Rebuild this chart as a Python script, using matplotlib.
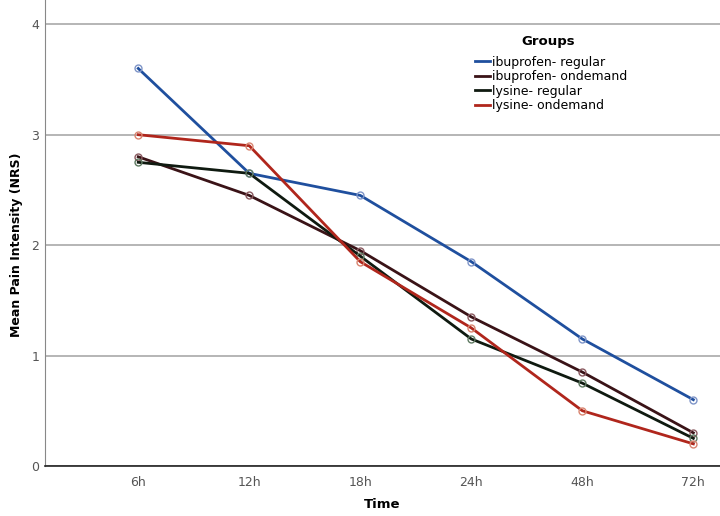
import matplotlib.pyplot as plt
from matplotlib.lines import Line2D

times = ['6h', '12h', '18h', '24h', '48h', '72h']
ibu_regular = [3.6, 2.65, 2.45, 1.85, 1.15, 0.6]
ibu_ondemand = [2.8, 2.45, 1.95, 1.35, 0.85, 0.3]
lys_regular = [2.75, 2.65, 1.9, 1.15, 0.75, 0.25]
lys_ondemand = [3.0, 2.9, 1.85, 1.25, 0.5, 0.2]

labels = ['ibuprofen- regular', 'ibuprofen- ondemand', 'lysine- regular', 'lysine- ondemand']
colors = ['#1f4f9e', '#3a1317', '#0f1a10', '#b0261c']
edge = ['#7f95c8', '#8a5a60', '#5f7a62', '#d98570']

fig = plt.figure(figsize=(7.2, 5.16), dpi=100)
ax = fig.add_axes([0.0625, 0.097, 0.9375, 0.903])

x = range(1, len(times) + 1)
for ys, lab, c, e in zip([ibu_regular, ibu_ondemand, lys_regular, lys_ondemand], labels, colors, edge):
    ax.plot(x, ys, color=c, lw=2, marker='o', ms=5,
            mfc='none', mec=e, mew=1.0, zorder=3)

ax.set_xlim(0.16, 6.24)
ax.set_ylim(0, 4.22)
ax.set_xticks(list(x))
ax.set_xticklabels(times)
ax.set_yticks([0, 1, 2, 3, 4])
ax.tick_params(length=0, colors='#555555', labelsize=9)
ax.tick_params(axis='x', pad=7)
ax.tick_params(axis='y', pad=4)
ax.yaxis.grid(True, color='#b0b0b0', lw=1.3)
ax.set_axisbelow(True)
for s in ['top', 'right']:
    ax.spines[s].set_visible(False)
ax.spines['left'].set_color('#888888')
ax.spines['bottom'].set_color('#222222')
ax.spines['bottom'].set_linewidth(1.2)

fig.text(382 / 720, 1 - 505 / 516, 'Time', fontweight='bold', fontsize=9.5,
         ha='center', va='center')
fig.text(17 / 720, 1 - 245 / 516, 'Mean Pain Intensity (NRS)', fontweight='bold',
         fontsize=9, rotation=90, ha='center', va='center')

# legend title placed on its own, the entries sit a bit lower
fig.text(548 / 720, 1 - 41 / 516, 'Groups', fontweight='bold', fontsize=9.5,
         ha='center', va='center')
handles = [Line2D([], [], color=c, lw=2) for c in colors]
leg = ax.legend(handles, labels, loc='upper left',
                bbox_to_anchor=(0.62, 0.905), frameon=False, fontsize=9,
                handlelength=1.2, handletextpad=0.2, labelspacing=0.12)

fig.savefig('out.png', dpi=100)
